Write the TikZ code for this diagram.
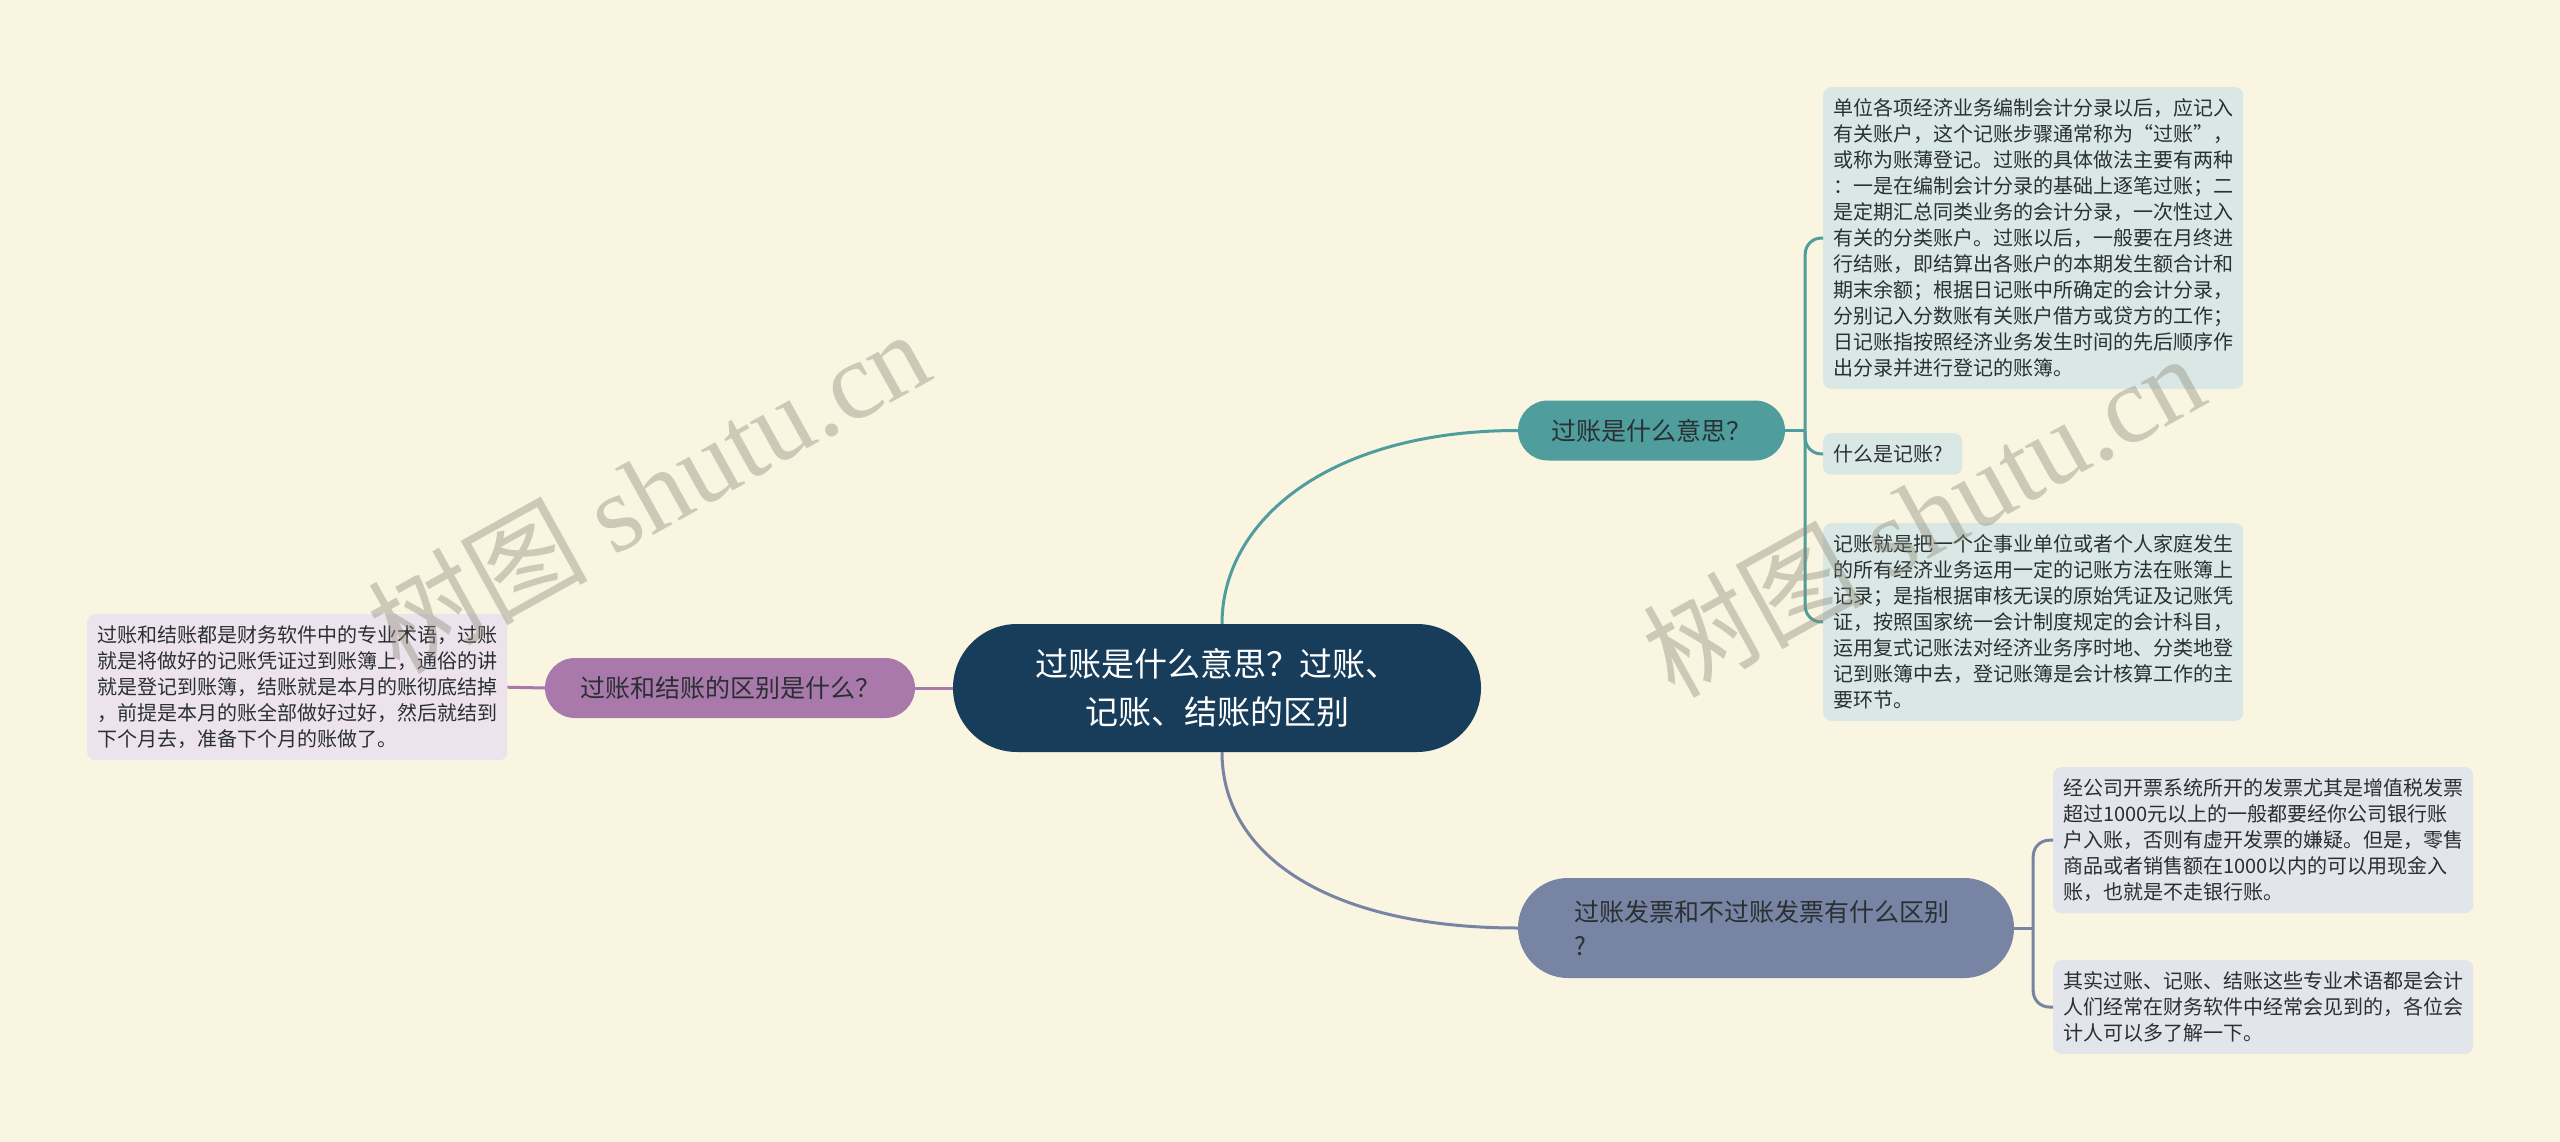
\documentclass[tikz,border=0pt]{standalone}
\usepackage{fontspec}
\setmainfont{Noto Sans CJK SC}
\newfontfamily\wmfont{Liberation Serif}

\definecolor{paper}{HTML}{F9F5E1}
\definecolor{rootblue}{HTML}{173D5B}
\definecolor{tealc}{HTML}{4F9D9D}
\definecolor{slatec}{HTML}{7884A4}
\definecolor{plumc}{HTML}{A879AA}
\definecolor{tealleaf}{HTML}{D9E8E5}
\definecolor{slateleaf}{HTML}{E2E5EC}
\definecolor{plumleaf}{HTML}{EDE3EC}
\definecolor{inkc}{HTML}{2A2F33}
\definecolor{wmgray}{HTML}{8C8778}

\tikzset{
  root/.style={fill=rootblue, text=white, align=center,
    font=\fontsize{33}{48}\selectfont, minimum width=528pt,
    minimum height=128pt, rounded corners=64pt},
  topic/.style={text=inkc, font=\fontsize{25}{34}\selectfont,
    minimum height=60pt, rounded corners=30pt, inner xsep=30pt},
  leaf/.style={anchor=north west, text=inkc, align=left,
    font=\fontsize{20}{26}\selectfont, text width=400pt,
    inner xsep=10pt, inner ysep=11.5pt, rounded corners=8pt},
  branch/.style={line width=3pt},
  wmark/.style={text=wmgray, opacity=0.4, rotate=29,
    font=\fontsize{110}{110}\selectfont},
}

\begin{document}
\begin{tikzpicture}[x=1pt, y=-1pt]
  \fill[paper] (0,0) rectangle (2560,1142);
  \useasboundingbox (0,0) rectangle (2560,1142);

  % centre and main topics
  \node[root] (root) at (1217,688) {过账是什么意思？过账、\\记账、结账的区别};
  \node[topic, fill=tealc, minimum width=267pt] (meaning) at (1651.5,430.5) {过账是什么意思？};
  \node[topic, fill=slatec, minimum width=496pt, minimum height=100pt,
    rounded corners=50pt, text width=384pt, align=left] (invoice) at (1766,928)
    {过账发票和不过账发票有什么区别\\?};
  \node[topic, fill=plumc, minimum width=370pt] (diff) at (730,688) {过账和结账的区别是什么？};

  % leaves
  \node[leaf, fill=tealleaf] (meaningA) at (1823,87) {单位各项经济业务编制会计分录以后，应记入\\
    有关账户，这个记账步骤通常称为“过账”，\\
    或称为账薄登记。过账的具体做法主要有两种\\
    ：一是在编制会计分录的基础上逐笔过账；二\\
    是定期汇总同类业务的会计分录，一次性过入\\
    有关的分类账户。过账以后，一般要在月终进\\
    行结账，即结算出各账户的本期发生额合计和\\
    期末余额；根据日记账中所确定的会计分录，\\
    分别记入分数账有关账户借方或贷方的工作；\\
    日记账指按照经济业务发生时间的先后顺序作\\
    出分录并进行登记的账簿。};
  \node[leaf, fill=tealleaf, text width=119pt] (meaningB) at (1823,433) {什么是记账?};
  \node[leaf, fill=tealleaf] (meaningC) at (1823,523) {记账就是把一个企事业单位或者个人家庭发生\\
    的所有经济业务运用一定的记账方法在账簿上\\
    记录；是指根据审核无误的原始凭证及记账凭\\
    证，按照国家统一会计制度规定的会计科目，\\
    运用复式记账法对经济业务序时地、分类地登\\
    记到账簿中去，登记账簿是会计核算工作的主\\
    要环节。};
  \node[leaf, fill=slateleaf] (invoiceA) at (2053,767) {经公司开票系统所开的发票尤其是增值税发票\\
    超过1000元以上的一般都要经你公司银行账\\
    户入账，否则有虚开发票的嫌疑。但是，零售\\
    商品或者销售额在1000以内的可以用现金入\\
    账，也就是不走银行账。};
  \node[leaf, fill=slateleaf] (invoiceB) at (2053,960) {其实过账、记账、结账这些专业术语都是会计\\
    人们经常在财务软件中经常会见到的，各位会\\
    计人可以多了解一下。};
  \node[leaf, fill=plumleaf] (diffA) at (87,614) {过账和结账都是财务软件中的专业术语，过账\\
    就是将做好的记账凭证过到账簿上，通俗的讲\\
    就是登记到账簿，结账就是本月的账彻底结掉\\
    ，前提是本月的账全部做好过好，然后就结到\\
    下个月去，准备下个月的账做了。};

  % connectors
  \draw[branch, tealc] ([xshift=5pt]root.north) .. controls +(0,-104) and +(-188,0) .. (meaning.west);
  \draw[branch, slatec] ([xshift=5pt]root.south) .. controls +(0,104) and +(-188,0) .. (invoice.west);
  \draw[branch, plumc] (root.west) -- (diff.east);
  \draw[branch, plumc] (diff.west) -- (diffA.east);

  \draw[branch, tealc] (meaning.east) -- ++(20,0) coordinate (mfork);
  \foreach \leaf in {meaningA,meaningB,meaningC}
    \draw[branch, tealc, rounded corners=16pt] (mfork) |- (\leaf.west);
  \draw[branch, slatec] (invoice.east) -- ++(19,0) coordinate (ifork);
  \foreach \leaf in {invoiceA,invoiceB}
    \draw[branch, slatec, rounded corners=16pt] (ifork) |- (\leaf.west);

  % watermarks
  \node[wmark] (wmA) at (648,490) {树图 {\wmfont shutu.cn}};
  \node[wmark] (wmB) at (1923,514) {树图 {\wmfont shutu.cn}};
\end{tikzpicture}
\end{document}
